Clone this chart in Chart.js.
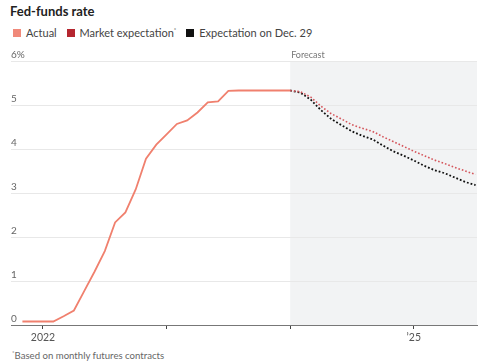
<!DOCTYPE html>
<html>
<head>
<meta charset="utf-8">
<script src="https://cdn.jsdelivr.net/npm/chart.js@4"></script>
<style>
  body { margin: 0; width: 500px; height: 364px; background: #fff; font-family: Lato, "Noto Sans", sans-serif; position: relative; overflow: hidden; }
  #title { position: absolute; left: 10px; top: 3px; font-size: 13px; font-weight: bold; color: #222; }
  #legend { position: absolute; left: 13px; top: 26px; font-size: 11px; color: #444; white-space: nowrap; }
  #legend span.item { margin-right: 7px; }
  #legend i { display: inline-block; width: 8px; height: 8px; margin-right: 5px; vertical-align: 0px; }
  #legend sup { font-size: 6px; vertical-align: 5px; }
  #note { position: absolute; left: 12px; top: 349px; font-size: 9.6px; color: #666; }
  #note sup { font-size: 6px; vertical-align: 4px; }
  #wrap { position: absolute; left: 0; top: 0; width: 500px; height: 364px; }
</style>
</head>
<body>
<div id="title">Fed-funds rate</div>
<div id="legend">
  <span class="item"><i style="background:#f0897a"></i>Actual</span>
  <span class="item"><i style="background:#b5262f"></i>Market expectation<sup>*</sup></span>
  <span class="item"><i style="background:#111"></i>Expectation on Dec. 29</span>
</div>
<div id="note"><sup>*</sup>Based on monthly futures contracts</div>
<div id="wrap"><canvas id="fed_chart"></canvas></div>
<script>
// months counted from Jan 2022 = 0
const actual_months = [-2, -1, 0, 1, 2, 3, 4, 5, 6, 7, 8, 9, 10, 11, 12, 13, 14, 15, 16, 17, 18, 19, 20, 21, 22, 23, 24];
const actual_rate = [0.08, 0.08, 0.08, 0.08, 0.20, 0.33, 0.77, 1.21, 1.68, 2.33, 2.56, 3.08, 3.78, 4.10, 4.33, 4.57, 4.65, 4.83, 5.06, 5.08, 5.32, 5.33, 5.33, 5.33, 5.33, 5.33, 5.33];

const forecast_months = [24, 25, 26, 27, 28, 29, 30, 31, 32, 33, 34, 35, 36, 37, 38, 39, 40, 41, 42];
const market_rate = [5.33, 5.30, 5.18, 4.97, 4.80, 4.68, 4.55, 4.47, 4.40, 4.28, 4.17, 4.06, 3.95, 3.85, 3.75, 3.67, 3.58, 3.50, 3.42];
const dec29_rate = [5.33, 5.28, 5.12, 4.88, 4.68, 4.54, 4.40, 4.30, 4.22, 4.08, 3.95, 3.85, 3.74, 3.62, 3.52, 3.45, 3.35, 3.25, 3.18];

const x_ticks = [0, 12, 24, 36];
const x_tick_labels = { 0: "2022", 36: "\u201925" };
const y_ticks = [0, 1, 2, 3, 4, 5, 6];
const forecast_start = 24;

function pairs(xs, ys) {
  return xs.map((x, i) => ({ x: x, y: ys[i] }));
}

const shade_plugin = {
  id: "shade",
  beforeDraw(chart) {
    const ctx = chart.ctx;
    const area = chart.chartArea;
    const x0 = chart.scales.x.getPixelForValue(forecast_start);
    ctx.save();
    ctx.fillStyle = "#f2f3f4";
    ctx.fillRect(x0, area.top, area.right - x0, area.bottom - area.top);
    ctx.fillStyle = "#777";
    ctx.font = "9px Lato, 'Noto Sans', sans-serif";
    ctx.textBaseline = "bottom";
    ctx.fillText("Forecast", x0 + 1, area.top - 1);
    ctx.restore();
  },
};

const fed_ctx = document.getElementById("fed_chart");

const fed_chart = new Chart(fed_ctx, {
  type: "line",
  data: {
    datasets: [
      {
        data: pairs(actual_months, actual_rate),
        borderColor: "#f0806e",
        borderWidth: 1.8,
        pointRadius: 0,
      },
      {
        data: pairs(forecast_months, market_rate),
        borderColor: "#d4545a",
        borderWidth: 1.6,
        borderDash: [1.6, 2],
        pointRadius: 0,
      },
      {
        data: pairs(forecast_months, dec29_rate),
        borderColor: "#111",
        borderWidth: 1.8,
        borderDash: [1.8, 2],
        pointRadius: 0,
      },
    ],
  },
  plugins: [shade_plugin],
  options: {
    responsive: true,
    maintainAspectRatio: false,
    animation: false,
    layout: {
      padding: { top: 61, left: 11, right: 23, bottom: 0 },
    },
    plugins: {
      legend: { display: false },
      tooltip: { enabled: false },
    },
    scales: {
      x: {
        type: "linear",
        min: -3.107,
        max: 42.14,
        afterBuildTicks: (s) => {
          s.ticks = x_ticks.map((v) => ({ value: v }));
        },
        afterFit: (s) => {
          s.height = 39;
        },
        ticks: {
          autoSkip: false,
          maxRotation: 0,
          padding: 2,
          color: "#555",
          font: { family: "Lato", size: 10.5 },
          callback: (v) => x_tick_labels[v] || "",
        },
        grid: {
          drawOnChartArea: false,
          drawTicks: true,
          tickLength: 4,
          color: "#444",
        },
        border: { color: "#777", width: 1 },
      },
      y: {
        min: 0,
        max: 6,
        afterBuildTicks: (s) => {
          s.ticks = y_ticks.map((v) => ({ value: v }));
        },
        afterFit: (s) => {
          s.width = 0;
        },
        ticks: {
          mirror: true,
          padding: 0,
          labelOffset: -6,
          color: "#666",
          font: { family: "Lato", size: 10 },
          callback: (v) => (v == 6 ? "6%" : v),
        },
        grid: {
          color: "#e8e8e8",
          drawTicks: false,
        },
        border: { display: false },
      },
    },
  },
});
</script>
</body>
</html>
